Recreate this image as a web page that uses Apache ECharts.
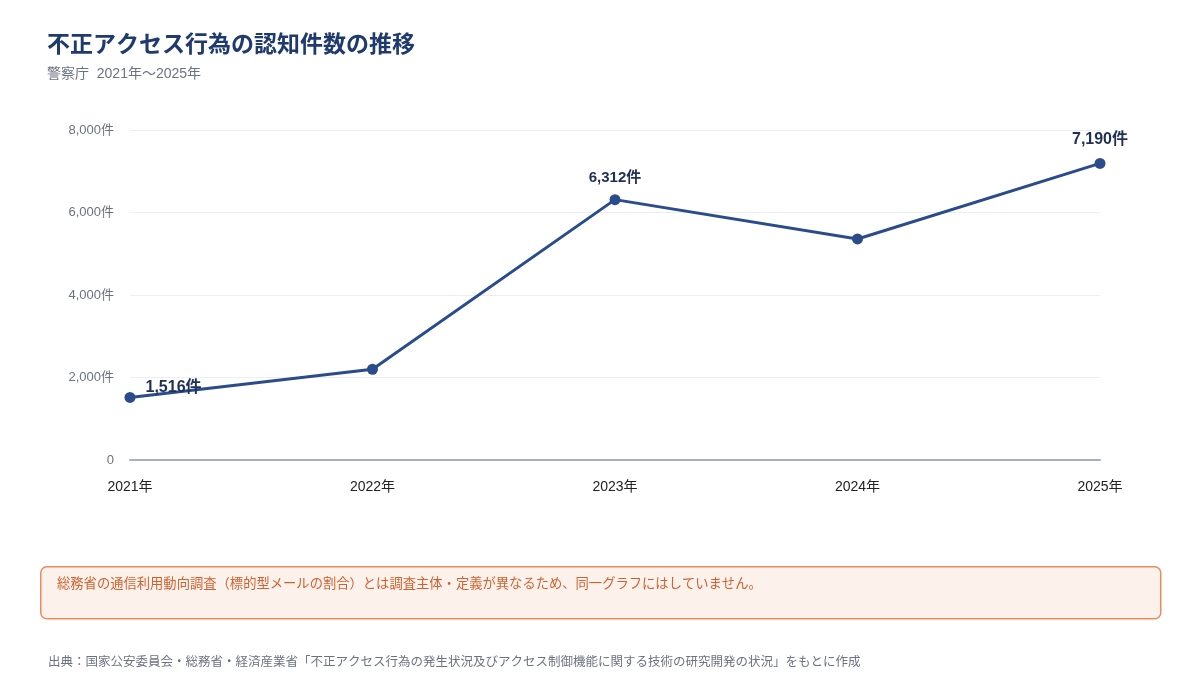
<!DOCTYPE html>
<html lang="ja">
<head>
<meta charset="utf-8">
<title>不正アクセス行為の認知件数の推移</title>
<script src="https://cdn.jsdelivr.net/npm/echarts@6/dist/echarts.min.js"></script>
<style>
  html, body { margin: 0; padding: 0; background: #fff; }
  #chart { width: 1200px; height: 700px; }
</style>
</head>
<body>
<div id="chart"></div>
<script>
var years = ['2021年', '2022年', '2023年', '2024年', '2025年'];
var counts = [1516, 2200, 6312, 5358, 7190];
var yTicks = [0, 2000, 4000, 6000, 8000];

var FONT = '"Liberation Sans", "Noto Sans CJK JP", sans-serif';
var NAVY = '#2b4c8c';

// labels only on selected years
var labelStyle = {
    0: { show: true, position: 'right', offset: [5, -10], fontSize: 16 },
    2: { show: true, position: 'top', offset: [0, -4], fontSize: 15 },
    4: { show: true, position: 'top', offset: [0, -5], fontSize: 16 }
};

var seriesData = counts.map(function(v, i) {
    var item = { value: v };
    if (labelStyle[i]) {
        item.label = Object.assign({
            fontWeight: 'bold',
            color: '#1f2f55',
            fontFamily: FONT,
            formatter: function(p) { return p.value.toLocaleString('en-US') + '件'; }
        }, labelStyle[i]);
    }
    return item;
});

var chart = echarts.init(document.getElementById('chart'));

chart.setOption({
    backgroundColor: '#ffffff',
    animation: false,
    title: {
        text: '不正アクセス行為の認知件数の推移',
        subtext: '警察庁  2021年〜2025年',
        left: 42,
        top: 29,
        itemGap: 10,
        textStyle: { fontFamily: FONT, fontSize: 23, fontWeight: 'bold', color: '#1f3a6e' },
        subtextStyle: { fontFamily: FONT, fontSize: 14, color: '#6b7280' }
    },
    grid: { left: 130, right: 100, top: 130, bottom: 240 },
    xAxis: {
        type: 'category',
        data: years,
        boundaryGap: false,
        axisTick: { show: false },
        axisLine: { lineStyle: { color: '#a8b0bc', width: 2 } },
        axisLabel: { color: '#222', fontSize: 14, margin: 20, fontFamily: FONT }
    },
    yAxis: {
        type: 'value',
        min: yTicks[0],
        max: yTicks[yTicks.length - 1],
        interval: yTicks[1] - yTicks[0],
        axisLine: { show: false },
        axisTick: { show: false },
        splitLine: { lineStyle: { color: '#eceef2' } },
        axisLabel: {
            color: '#6b7280',
            fontSize: 13,
            margin: 16,
            fontFamily: FONT,
            formatter: function(v) { return v === 0 ? '0' : v.toLocaleString('en-US') + '件'; }
        }
    },
    series: [{
        type: 'line',
        data: seriesData,
        symbol: 'circle',
        symbolSize: 11,
        lineStyle: { color: NAVY, width: 3 },
        itemStyle: { color: NAVY },
        label: { show: false }
    }],
    graphic: [
        {
            type: 'rect',
            left: 40,
            top: 566,
            shape: { width: 1120, height: 52, r: 6 },
            style: { fill: '#fdf1ec', stroke: '#ee8a60', lineWidth: 1.5 }
        },
        {
            type: 'text',
            left: 57,
            top: 578,
            style: {
                text: '総務省の通信利用動向調査（標的型メールの割合）とは調査主体・定義が異なるため、同一グラフにはしていません。',
                fill: '#d0612e',
                font: '13.3px ' + FONT
            }
        },
        {
            type: 'text',
            left: 48,
            top: 656,
            style: {
                text: '出典：国家公安委員会・総務省・経済産業省「不正アクセス行為の発生状況及びアクセス制御機能に関する技術の研究開発の状況」をもとに作成',
                fill: '#6b7280',
                font: '12.5px ' + FONT
            }
        }
    ]
});
</script>
</body>
</html>
